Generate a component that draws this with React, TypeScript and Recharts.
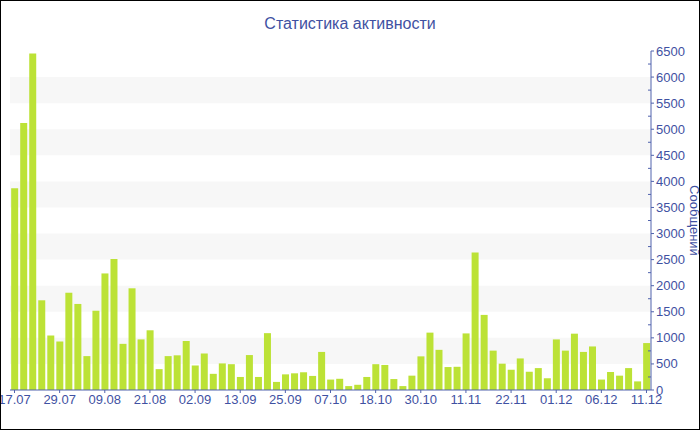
import React from 'react';
import { BarChart, Bar, XAxis, YAxis, ReferenceArea } from 'recharts';

const title = 'Статистика активности';
const yLabel = 'Сообщений';

// one bar per period, a date label every 5th bar
const tickLabels = ['17.07', '29.07', '09.08', '21.08', '02.09', '13.09', '25.09', '07.10', '18.10', '30.10', '11.11', '22.11', '01.12', '06.12', '11.12'];

const messages = [
  3870, 5120, 6450, 1720, 1045, 930, 1865, 1650, 650, 1520,
  2235, 2510, 885, 1950, 970, 1145, 400, 650, 665, 940,
  470, 700, 310, 510, 495, 250, 670, 250, 1090, 155,
  300, 320, 340, 270, 730, 200, 215, 75, 100, 250,
  495, 480, 210, 75, 275, 645, 1100, 770, 440, 445,
  1085, 2635, 1440, 755, 505, 390, 605, 350, 420, 225,
  970, 755, 1080, 730, 835, 200, 345, 275, 420, 165,
  900,
];

const data = messages.map((value, idx) => ({ idx, value }));

const AXIS = '#5063ad';
const TEXT = '#3f51a2';
const BAR = '#bce236';
const STRIPE = '#f7f7f7';

const Y_MAX = 6500;
const yTicks: number[] = [];
for (let v = 0; v <= Y_MAX; v += 250) yTicks.push(v);
const stripes = yTicks.filter((v) => v % 1000 === 500 && v + 500 <= Y_MAX);

const YTick = (props: any) => {
  const { x, y, payload } = props;
  const axisX = x - 5;
  const major = payload.value % 500 === 0;
  if (!major) {
    return <line x1={axisX - 3} y1={y} x2={axisX} y2={y} stroke={AXIS} />;
  }
  return (
    <g>
      <line x1={axisX} y1={y} x2={axisX + 3} y2={y} stroke={AXIS} />
      <text x={x} y={y} dy={4.5} textAnchor="start" fontSize={13} fill={TEXT}>
        {payload.value}
      </text>
    </g>
  );
};

export default function App() {
  return (
    <div
      style={{
        position: 'absolute',
        left: 0,
        top: 0,
        width: 700,
        height: 430,
        boxSizing: 'border-box',
        border: '1px solid #000',
        background: '#fff',
        fontFamily: '"Liberation Sans", Arial, sans-serif',
      }}
    >
      <div
        style={{
          position: 'absolute',
          top: 14,
          left: 0,
          width: 698,
          textAlign: 'center',
          fontSize: 16,
          color: TEXT,
        }}
      >
        {title}
      </div>
      <BarChart
        width={698}
        height={428}
        data={data}
        margin={{ top: 50, right: 0, bottom: 0, left: 9 }}
        barCategoryGap="13%"
      >
        {stripes.map((v) => (
          <ReferenceArea key={v} y1={v} y2={v + 500} fill={STRIPE} fillOpacity={1} stroke="none" ifOverflow="hidden" />
        ))}
        <XAxis
          dataKey="idx"
          interval={4}
          tickFormatter={(v: number) => tickLabels[v / 5]}
          axisLine={{ stroke: AXIS }}
          tickLine={{ stroke: AXIS }}
          tickSize={3}
          tickMargin={2}
          height={39}
          tick={{ fontSize: 13, fill: TEXT }}
        />
        <YAxis
          orientation="right"
          type="number"
          domain={[0, Y_MAX]}
          ticks={yTicks}
          interval={0}
          width={48}
          axisLine={{ stroke: AXIS }}
          tickLine={false}
          tickSize={3}
          tickMargin={2}
          tick={<YTick />}
          label={{ value: yLabel, angle: 90, position: 'center', dx: 20, fontSize: 13, fill: TEXT }}
        />
        <Bar dataKey="value" fill={BAR} isAnimationActive={false} />
      </BarChart>
    </div>
  );
}
